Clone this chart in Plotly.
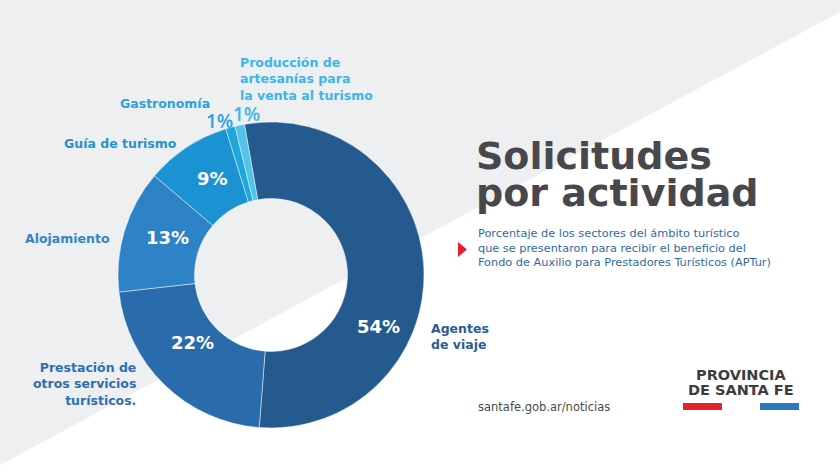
import plotly.graph_objects as go

W, H = 840, 473

categories = ["Agentes de viaje", "Prestación de otros servicios turísticos.", "Alojamiento",
              "Guía de turismo", "Gastronomía", "Producción de artesanías para la venta al turismo"]
values = [54, 22, 13, 9, 1, 1]
slice_colors = ["#255a8e", "#2a6cab", "#2d83c5", "#1b93d3", "#1fa6df", "#54c3ec"]
label_colors = ["#2a5d96", "#2d6fb0", "#3485c5", "#2592d0", "#2aa3dd", "#3cb6e8"]
label_lines = [["Agentes", "de viaje"],
               ["Prestación de", "otros servicios", "turísticos."],
               ["Alojamiento"],
               ["Guía de turismo"],
               ["Gastronomía"],
               ["Producción de", "artesanías para", "la venta al turismo"]]

title_lines = ["Solicitudes", "por actividad"]
subtitle_lines = ["Porcentaje de los sectores del ámbito turístico",
                  "que se presentaron para recibir el beneficio del",
                  "Fondo de Auxilio para Prestadores Turísticos (APTur)"]
source_text = "santafe.gob.ar/noticias"
logo_lines = ["PROVINCIA", "DE SANTA FE"]

FONT = "DejaVu Sans"


def px(x):
    return x / W


def py(y):
    return 1 - y / H


# donut geometry (pixels)
cx, cy, R = 271, 275, 153

fig = go.Figure()
fig.add_trace(go.Pie(
    labels=categories, values=values, sort=False, direction="clockwise",
    rotation=-10, hole=0.5, textinfo="none", hoverinfo="label+percent",
    marker=dict(colors=slice_colors, line=dict(color="rgba(255,255,255,0.45)", width=1)),
    domain=dict(x=[px(cx - R), px(cx + R)], y=[py(cy + R), py(cy - R)]),
    showlegend=False,
))

shapes = [
    # light gray background triangle (upper-left part)
    dict(type="path", xref="paper", yref="paper",
         path=f"M 0 1 L 1 1 L 1 {py(12)} L 0 {py(465)} Z",
         fillcolor="#eeeff1", line=dict(width=0), layer="below"),
    # red triangle marker
    dict(type="path", xref="paper", yref="paper",
         path=f"M {px(458)} {py(242)} L {px(467)} {py(249.5)} L {px(458)} {py(257)} Z",
         fillcolor="#e3202c", line=dict(width=0)),
    # logo bars
    dict(type="rect", xref="paper", yref="paper", x0=px(683), x1=px(722), y0=py(410), y1=py(403),
         fillcolor="#e52330", line=dict(width=0)),
    dict(type="rect", xref="paper", yref="paper", x0=px(760), x1=px(799), y0=py(410), y1=py(403),
         fillcolor="#2a78c0", line=dict(width=0)),
]

annotations = []

# percent labels (inside the ring for large slices, outside for small ones)
pct_pos = [(378, 326), (192, 342), (167, 237), (212, 178), (219, 121), (246, 114)]
for i, v in enumerate(values):
    inside = v >= 5
    if inside:
        f = dict(family=FONT, size=18, weight=700, color="white")
    else:
        f = dict(family="Open Sans", size=19, weight=600, color=label_colors[i])
    annotations.append(dict(
        x=px(pct_pos[i][0]), y=py(pct_pos[i][1]), xref="paper", yref="paper",
        text=f"{v}%", showarrow=False, xanchor="center", yanchor="middle", font=f,
    ))

# category labels: (x, y_center_of_block, anchor)
cat_pos = [(429, 336.5, "left"), (138, 384, "right"), (112, 238, "right"),
           (179, 143, "right"), (212, 103, "right"), (238, 79, "left")]
for i, lines in enumerate(label_lines):
    x, yc, anc = cat_pos[i]
    annotations.append(dict(
        x=px(x), y=py(yc), xref="paper", yref="paper", text="<br>".join(lines),
        showarrow=False, xanchor=anc, yanchor="middle", align=anc,
        font=dict(family=FONT, size=12.5, weight=700, color=label_colors[i]),
    ))

# title
for j, ln in enumerate(title_lines):
    annotations.append(dict(
        x=px(474), y=py(156 + 37 * j), xref="paper", yref="paper", text=ln,
        showarrow=False, xanchor="left", yanchor="middle",
        font=dict(family=FONT, size=38, weight=700, color="#48484c"),
    ))

# subtitle
annotations.append(dict(
    x=px(476), y=py(248.5), xref="paper", yref="paper", text="<br>".join(subtitle_lines),
    showarrow=False, xanchor="left", yanchor="middle", align="left",
    font=dict(family=FONT, size=11.3, color="#2f6aa6"),
))

# source
annotations.append(dict(
    x=px(476), y=py(407), xref="paper", yref="paper", text=source_text,
    showarrow=False, xanchor="left", yanchor="middle",
    font=dict(family=FONT, size=11.5, color="#4a4a4c"),
))

# logo text
for j, ln in enumerate(logo_lines):
    annotations.append(dict(
        x=px(741), y=py(375 + 15 * j), xref="paper", yref="paper", text=ln,
        showarrow=False, xanchor="center", yanchor="middle",
        font=dict(family=FONT, size=14.5, weight=700, color="#3d3d40"),
    ))

fig.update_layout(
    width=W, height=H, margin=dict(l=0, r=0, t=0, b=0),
    paper_bgcolor="white", plot_bgcolor="white",
    shapes=shapes, annotations=annotations,
)

fig.write_html("out.html", config={"displayModeBar": False})
